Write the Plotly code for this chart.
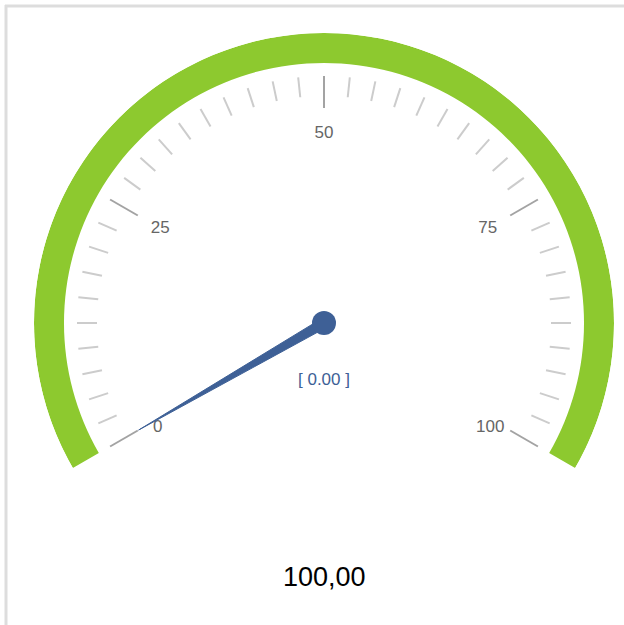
import plotly.graph_objects as go

# ---- data ----
gauge_min = 0
gauge_max = 100
needle_value = 0.0
display_value = 100.0
major_ticks = [0, 25, 50, 75, 100]
major_labels = ["0", "25", "50", "75", "100"]
minor_ticks = [i * 2.5 for i in range(41) if (i * 2.5) % 25 != 0]

# ---- style ----
SWEEP = 240.0  # degrees covered by the gauge
GREEN = "#8DC92F"
BLUE = "#3E6096"
FONT = "Liberation Sans, Arial"

# plot area (page pixels); body margin is removed by post_script
ML, MT, SIDE = 34, 33, 580


def ang(v):
    return (v - gauge_min) / (gauge_max - gauge_min) * SWEEP


def tick_lines(vals, r0, r1):
    rr, tt = [], []
    for v in vals:
        rr += [r0, r1, None]
        tt += [ang(v), ang(v), None]
    return rr, tt


fig = go.Figure()

# green band
fig.add_trace(go.Barpolar(
    r=[30], base=[260], theta=[ang((gauge_min + gauge_max) / 2)], width=[SWEEP],
    marker=dict(color=GREEN, line=dict(width=0)), hoverinfo="skip", showlegend=False))

# minor ticks
r, t = tick_lines(minor_ticks, 227, 247)
fig.add_trace(go.Scatterpolar(r=r, theta=t, mode="lines",
                              line=dict(color="#CCCCCC", width=2),
                              hoverinfo="skip", showlegend=False))
# major ticks
r, t = tick_lines(major_ticks, 215, 247)
fig.add_trace(go.Scatterpolar(r=r, theta=t, mode="lines",
                              line=dict(color="#A3A3A3", width=2),
                              hoverinfo="skip", showlegend=False))

# tick labels
fig.add_trace(go.Scatterpolar(
    r=[192, 189, 189, 189, 192], theta=[ang(v) for v in major_ticks],
    mode="text", text=major_labels,
    textposition=["bottom center", "middle center", "middle center",
                  "middle center", "bottom center"],
    textfont=dict(family=FONT, size=17, color="#666666"),
    hoverinfo="skip", showlegend=False))

# needle
a = ang(needle_value)
fig.add_trace(go.Scatterpolar(
    r=[5, 214, 5, 5], theta=[a - 90, a, a + 90, a - 90],
    mode="lines", fill="toself", fillcolor=BLUE,
    line=dict(color=BLUE, width=1), hoverinfo="skip", showlegend=False))
fig.add_trace(go.Scatterpolar(
    r=[0], theta=[0], mode="markers",
    marker=dict(size=24, color=BLUE), hoverinfo="skip", showlegend=False))

fig.update_layout(
    width=624, height=625,
    margin=dict(l=ML, r=624 - ML - SIDE, t=MT, b=625 - MT - SIDE),
    paper_bgcolor="white",
    showlegend=False,
    polar=dict(
        domain=dict(x=[0, 1], y=[0, 1]),
        bgcolor="white",
        radialaxis=dict(range=[0, 290], visible=False, showgrid=False),
        angularaxis=dict(visible=False, rotation=210, direction="clockwise",
                         showgrid=False, showline=False, thetaunit="degrees"),
    ),
    annotations=[
        dict(x=0.5, y=(MT + SIDE - 379) / SIDE, xref="paper", yref="paper",
             xanchor="center", yanchor="middle",
             text=f"[ {needle_value:.2f} ]", showarrow=False,
             font=dict(family=FONT, size=17, color=BLUE)),
        dict(x=0.5, y=(MT + SIDE - 577) / SIDE, xref="paper", yref="paper",
             xanchor="center", yanchor="middle",
             text=f"{display_value:.2f}".replace(".", ","), showarrow=False,
             font=dict(family=FONT, size=27, color="black")),
    ],
    shapes=[
        dict(type="line", xref="paper", yref="paper",
             xsizemode="pixel", ysizemode="pixel", xanchor=0, yanchor=1,
             x0=6 - ML, x1=6 - ML, y0=MT - 5, y1=-620,
             line=dict(color="#DDDDDD", width=3)),
        dict(type="line", xref="paper", yref="paper",
             xsizemode="pixel", ysizemode="pixel", xanchor=0, yanchor=1,
             x0=5 - ML, x1=640, y0=MT - 6, y1=MT - 6,
             line=dict(color="#DDDDDD", width=3)),
    ],
)

fig.write_html("out.html",
               config={"displayModeBar": False},
               post_script="document.body.style.margin='0';")
